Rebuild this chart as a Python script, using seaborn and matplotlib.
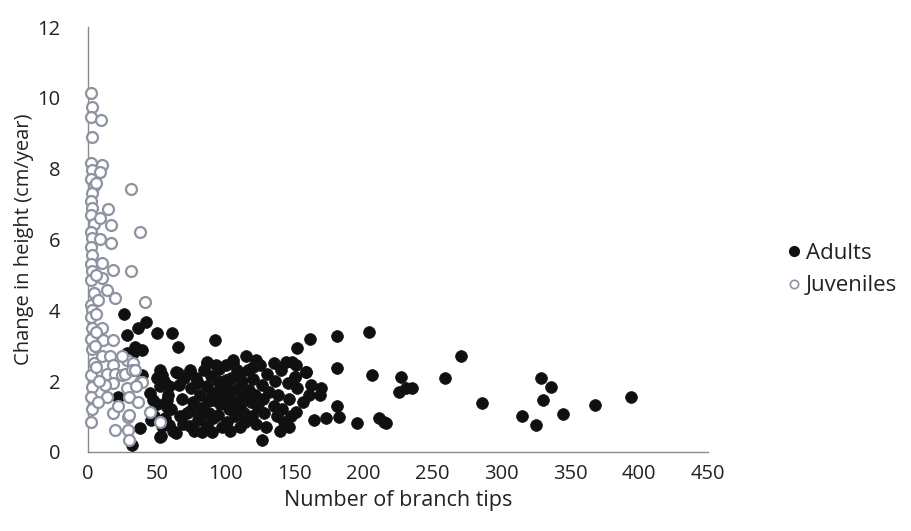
import matplotlib
matplotlib.use("Agg")
import matplotlib.pyplot as plt
from matplotlib.lines import Line2D
import pandas as pd
import seaborn as sns

# Adults: number of branch tips vs. change in height (cm/year)
adult_tips = [
    26, 42, 36, 50, 61, 28, 65, 39, 34, 92, 28, 33, 22, 38, 32,
    39, 50, 52, 47, 57, 59, 52, 51, 65, 74, 86, 45, 59, 57, 71.5,
    81, 54, 64, 74, 91, 100, 110, 120, 105, 115,
    55, 58, 60, 56, 62, 66, 68, 67, 69, 70, 75, 76, 74, 77, 78,
    80, 81, 82, 80, 83, 84, 86, 87, 88, 86, 89, 90, 91, 90,
    94, 95, 96, 94, 97, 95, 98, 100, 101, 100, 102, 101, 103, 104, 104,
    106, 107, 108, 109, 110, 110, 112, 112, 113, 114,
    116, 117, 118, 119, 120, 121, 122, 123,
    125, 126, 127, 128, 126, 129, 130, 131,
    135, 136, 137, 138, 140, 141, 142, 139,
    145, 146, 147, 150, 151, 152, 156, 158, 160, 162, 164,
    48, 50, 46, 52, 53, 93, 86, 105, 122, 135, 144, 151, 64, 74, 54,
    168, 169, 173, 181, 182, 181, 195, 161, 181, 204, 152, 148, 158, 150,
    206, 211, 216, 146,
    271, 227, 231, 226, 235, 259, 286, 328.5, 336, 330, 315, 325, 345,
    368, 394, 215,
]
adult_growth = [
    3.9, 3.68, 3.5, 3.35, 3.35, 3.3, 2.97, 2.88, 2.97, 3.15, 2.8, 2.8, 1.55, 0.68, 0.2,
    2.17, 2.08, 1.85, 1.47, 1.27, 0.76, 0.43, 2.12, 2.22, 2.3, 2.5, 1.67, 1.85, 1.47, 1.1,
    0.99, 0.72, 0.54, 0.72, 1.47, 2.03, 2.22, 2.4, 2.6, 2.7,
    2.0, 1.6, 1.2, 0.95, 0.6, 1.9, 1.5, 1.0, 0.8, 2.1, 1.8, 1.4, 1.15, 0.6, 2.1,
    1.95, 1.6, 1.25, 0.9, 0.55, 2.3, 1.85, 1.45, 1.1, 0.75, 2.15, 1.65, 0.95, 0.55,
    2.0, 1.75, 1.35, 1.05, 0.7, 2.35, 1.55, 2.45, 1.9, 1.5, 1.2, 0.85, 0.6, 2.1, 1.7,
    1.4, 1.0, 2.3, 1.8, 1.3, 0.7, 2.0, 1.55, 1.1, 0.85,
    2.3, 1.75, 1.4, 1.0, 2.05, 1.6, 0.8, 1.25,
    2.45, 1.9, 1.5, 1.1, 0.34, 0.7, 2.2, 1.7,
    1.3, 2.0, 1.0, 1.6, 2.3, 1.2, 0.85, 0.6,
    1.95, 1.5, 1.0, 2.12, 1.13, 1.8, 1.42, 2.27, 1.6, 1.9, 0.9,
    1.0, 1.35, 0.9, 2.3, 0.45, 2.46, 2.53, 2.5, 2.6, 2.5, 2.55, 2.46, 2.27, 2.27, 2.18,
    1.6, 1.8, 0.95, 1.3, 0.99, 2.36, 0.82, 3.2, 3.28, 3.4, 2.93, 2.53, 2.27, 2.12,
    2.18, 0.96, 0.82, 0.7,
    2.7, 2.12, 1.8, 1.7, 1.8, 2.08, 1.38, 2.08, 1.84, 1.47, 1.02, 0.76, 1.07,
    1.33, 1.55, 0.85,
]

# Juveniles
juvenile_tips = [
    2, 3, 2, 3, 2, 3, 2, 4, 3, 2, 3, 2, 4, 2, 3, 2, 3, 2, 3, 2, 4, 2, 3, 2, 3,
    2, 3, 4, 2, 3, 2, 3, 2,
    9.4, 10, 8.7, 31, 14.5, 8.7, 16.5, 37.6, 8.7, 17, 10, 18, 31, 10, 13.7,
    19.5, 41, 10, 11, 18, 10, 16, 18, 28, 25, 33, 13.7, 19.5, 24.6, 27, 32,
    34, 37.6, 39, 18, 28, 35, 14, 30, 36, 18, 45, 29, 30, 19.5, 29, 30,
    52, 6, 6, 6, 6, 7, 12, 5, 7, 22, 6, 8,
]
juvenile_growth = [
    10.15, 9.75, 9.45, 8.9, 8.15, 7.95, 7.7, 7.5, 7.3, 7.1, 6.9, 6.7, 6.45, 6.2,
    6.05, 5.8, 5.55, 5.3, 5.1, 4.85, 4.5, 4.15, 4.0, 3.8, 3.5, 3.2, 2.9, 2.5,
    2.17, 1.84, 1.56, 1.2, 0.85,
    9.38, 8.1, 7.9, 7.43, 6.86, 6.6, 6.4, 6.2, 6.0, 5.9, 5.33, 5.14, 5.1, 4.9, 4.57,
    4.35, 4.22, 3.5, 3.16, 3.16, 2.7, 2.7, 2.45, 2.6, 2.7, 2.5, 2.2, 2.2, 2.17, 2.2, 2.3,
    2.3, 1.97, 1.98, 1.95, 1.8, 1.85, 1.55, 1.55, 1.4, 1.1, 1.13, 0.99, 1.05, 0.62, 0.62, 0.34,
    0.85, 7.6, 5.0, 3.9, 2.4, 1.4, 1.9, 3.0, 4.3, 1.3, 3.4, 2.0,
]

adults = pd.DataFrame({"tips": adult_tips, "growth": adult_growth})
juveniles = pd.DataFrame({"tips": juvenile_tips, "growth": juvenile_growth})

sns.set_style("white")
plt.rcParams["font.family"] = ["Open Sans", "DejaVu Sans"]

text_color = "#222222"
axis_color = "#8a8a8a"
juv_edge = "#8d93a1"

fig = plt.figure(figsize=(9.12, 5.31), dpi=100)
ax = fig.add_axes([0.0965, 0.149, 0.68, 0.800])

sns.scatterplot(data=adults, x="tips", y="growth", ax=ax, s=72,
                color="#101010", edgecolor="#101010", linewidth=0.5,
                zorder=3, clip_on=False)
sns.scatterplot(data=juveniles, x="tips", y="growth", ax=ax, s=62,
                color="white", edgecolor=juv_edge, linewidth=1.6,
                zorder=4, clip_on=False)

ax.set_xlim(0, 450)
ax.set_ylim(0, 12)
ax.set_xticks(range(0, 451, 50))
ax.set_yticks(range(0, 13, 2))

for side in ("top", "right"):
    ax.spines[side].set_visible(False)
for side in ("left", "bottom"):
    ax.spines[side].set_color(axis_color)
    ax.spines[side].set_linewidth(1.0)

ax.tick_params(axis="both", which="major", direction="out", length=4,
               width=1.0, color=axis_color, labelsize=14.5,
               labelcolor=text_color)
ax.tick_params(axis="x", pad=5)
ax.tick_params(axis="y", pad=16)

ax.set_xlabel("Number of branch tips", fontsize=15.5, color=text_color, labelpad=4)
ax.set_ylabel("Change in height (cm/year)", fontsize=14.5, color=text_color, labelpad=2)

handles = [
    Line2D([], [], linestyle="none", marker="o", markersize=7,
           markerfacecolor="#101010", markeredgecolor="#101010", label="Adults"),
    Line2D([], [], linestyle="none", marker="o", markersize=6,
           markerfacecolor="white", markeredgecolor=juv_edge,
           markeredgewidth=1.2, label="Juveniles"),
]
fig.legend(handles=handles, loc="center left", bbox_to_anchor=(0.836, 0.492),
           frameon=False, fontsize=16, handletextpad=0.05, labelspacing=0.5,
           labelcolor=text_color, handlelength=1.0)

fig.savefig("out.png", dpi=100, facecolor="white")
